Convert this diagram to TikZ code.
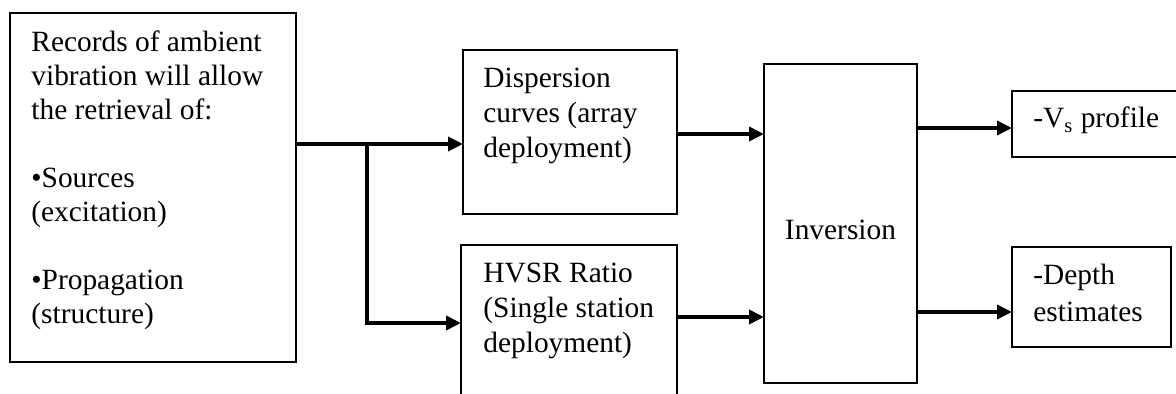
\documentclass[tikz,border=0pt]{standalone}
\usepackage{fontspec}
\setmainfont{Liberation Serif}
\usetikzlibrary{arrows.meta,calc}
\begin{document}
\begin{tikzpicture}[x=0.5pt,y=-0.5pt,
  box/.style={draw, line width=1pt, anchor=north west, inner sep=0pt, outer sep=0pt},
  txt/.style={anchor=base west, inner sep=0pt, font=\fontsize{14.7pt}{17pt}\selectfont},
  arr/.style={line width=2pt, -{Triangle[length=7.5pt,width=7pt]}}]
\useasboundingbox (0,0) rectangle (1176,394);
% boxes
\node[box, minimum width=143pt, minimum height=174.5pt] (src) at (10,13) {};
\node[box, minimum width=107pt, minimum height=82pt] (disp) at (463,50) {};
\node[box, minimum width=108pt, minimum height=90pt] (hvsr) at (461,245) {};
\node[box, minimum width=76.5pt, minimum height=159.5pt] (inv) at (764,64) {};
\node[box, minimum width=100pt, minimum height=33pt] (vs) at (1012,91) {};
\node[box, minimum width=79.5pt, minimum height=50pt] (depth) at (1012,247) {};
% texts
\node[txt] (srct) at (31,52) {\begin{tabular}[t]{@{}l@{}}Records of ambient\\vibration will allow\\the retrieval of:\\ \\•Sources\\(excitation)\\ \\•Propagation\\(structure)\end{tabular}};
\node[txt, font=\fontsize{14.7pt}{17.5pt}\selectfont] (dispt) at (483,88) {\begin{tabular}[t]{@{}l@{}}Dispersion\\curves (array\\deployment)\end{tabular}};
\node[txt, font=\fontsize{14.7pt}{17.5pt}\selectfont] (hvsrt) at (483,283) {\begin{tabular}[t]{@{}l@{}}HVSR Ratio\\(Single station\\deployment)\end{tabular}};
\node[txt, anchor=base] (invt) at (840.5,240) {Inversion};
\node[txt] (vst) at (1033,128) {-V\textsubscript{s} profile};
\node[txt, font=\fontsize{14.7pt}{18.5pt}\selectfont] (deptht) at (1033,285) {\begin{tabular}[t]{@{}l@{}}-Depth\\estimates\end{tabular}};
% connectors
\coordinate (j1) at (367,144);
\coordinate (j2) at (367,323);
\coordinate (d1) at (0,134);
\coordinate (h1) at (0,317);
\coordinate (o1) at (0,128);
\coordinate (o2) at (0,312);
\draw[arr] (src.east |- j1) -- (j1 -| disp.west);
\draw[arr] (j1) |- (j2 -| hvsr.west);
\draw[arr] (disp.east |- d1) -- (inv.west |- d1);
\draw[arr] (hvsr.east |- h1) -- (inv.west |- h1);
\draw[arr] (inv.east |- o1) -- (vs.west |- o1);
\draw[arr] (inv.east |- o2) -- (depth.west |- o2);
\end{tikzpicture}
\end{document}
